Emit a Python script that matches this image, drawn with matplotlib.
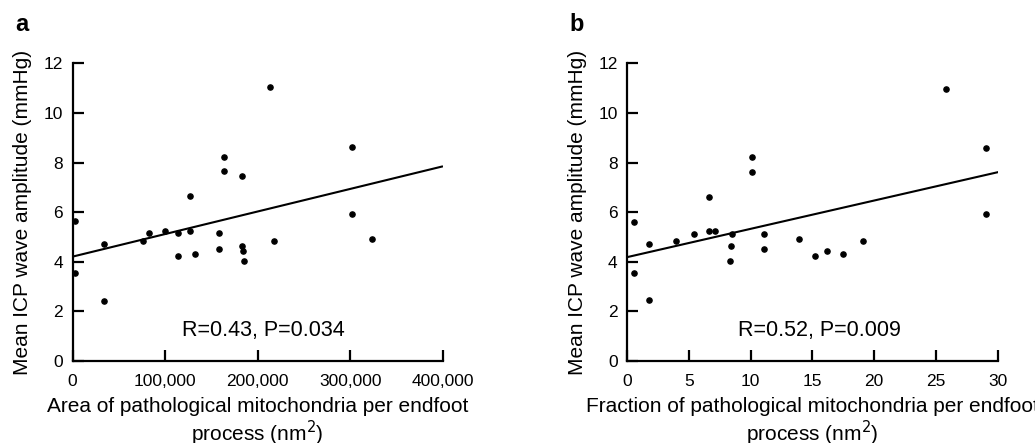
import matplotlib
matplotlib.use("Agg")
import matplotlib.pyplot as plt
import numpy as np

plt.rcParams['font.family'] = ['Liberation Sans', 'DejaVu Sans']

# panel a: area of pathological mitochondria (nm^2) vs mean ICP wave amplitude
area_x = [2900, 2900, 33900, 33900, 75700, 82200, 99500, 113900, 113900, 127200,
          127200, 132300, 158600, 158600, 163600, 163600, 182700, 182700, 184500,
          185600, 213000, 218000, 301300, 301300, 322900]
area_y = [5.65, 3.53, 4.73, 2.43, 4.84, 5.15, 5.24, 5.15, 4.23, 6.64,
          5.24, 4.33, 5.15, 4.53, 8.24, 7.65, 7.45, 4.64, 4.44,
          4.03, 11.03, 4.84, 8.64, 5.94, 4.93]
area_fit = (4.21, 7.84)        # line values at start / end
area_fit_x = (0, 399000)

# panel b: fraction of pathological mitochondria vs mean ICP wave amplitude
frac_x = [0.54, 0.54, 1.73, 1.73, 3.97, 5.43, 6.62, 6.62, 7.10, 8.29, 8.37, 8.48,
          10.07, 10.07, 11.05, 11.05, 13.91, 15.18, 16.15, 17.5, 19.09, 25.84,
          29.03, 29.03]
frac_y = [5.62, 3.53, 4.73, 2.46, 4.83, 5.13, 6.63, 5.23, 5.23, 4.03, 4.62, 5.13,
          8.21, 7.62, 5.13, 4.53, 4.93, 4.23, 4.44, 4.33, 4.83, 10.97,
          8.59, 5.93]
frac_fit = (4.19, 7.61)
frac_fit_x = (0, 30)

y_ticks = [0, 2, 4, 6, 8, 10, 12]
area_ticks = [0, 100000, 200000, 300000, 400000]
area_tick_labels = ['0', '100,000', '200,000', '300,000', '400,000']
frac_ticks = [0, 5, 10, 15, 20, 25, 30]

panels = [
    dict(letter='a', x=area_x, y=area_y, fx=area_fit_x, fy=area_fit,
         xlim=(0, 400000), ticks=area_ticks, labels=area_tick_labels,
         xlabel='Area of pathological mitochondria per endfoot\nprocess (nm$^2$)',
         stat='R=0.43, P=0.034', stat_x=0.515, left=0.0702),
    dict(letter='b', x=frac_x, y=frac_y, fx=frac_fit_x, fy=frac_fit,
         xlim=(0, 30), ticks=frac_ticks, labels=[str(t) for t in frac_ticks],
         xlabel='Fraction of pathological mitochondria per endfoot\nprocess (nm$^2$)',
         stat='R=0.52, P=0.009', stat_x=0.52, left=0.6061),
]

fig = plt.figure(figsize=(10.35, 4.43), dpi=100)

for p in panels:
    ax = fig.add_axes([p['left'], 0.185, 0.3577, 0.672])
    ax.scatter(p['x'], p['y'], s=14, color='black', zorder=3, clip_on=False)
    ax.plot(p['fx'], p['fy'], color='black', linewidth=1.5)

    ax.set_xlim(*p['xlim'])
    ax.set_ylim(0, 12)
    ax.set_xticks(p['ticks'])
    ax.set_xticklabels(p['labels'])
    ax.set_yticks(y_ticks)

    for side in ['top', 'right']:
        ax.spines[side].set_visible(False)
    for side in ['left', 'bottom']:
        ax.spines[side].set_linewidth(1.6)

    ax.tick_params(axis='both', direction='in', length=8, width=1.6,
                   labelsize=12.5, colors='black')
    ax.tick_params(axis='x', pad=9)
    ax.tick_params(axis='y', pad=7)

    ax.set_xlabel(p['xlabel'], fontsize=15, labelpad=6, linespacing=1.15)
    ax.set_ylabel('Mean ICP wave amplitude (mmHg)', fontsize=15, labelpad=8)

    ax.text(p['stat_x'], 0.104, p['stat'], transform=ax.transAxes,
            ha='center', va='center', fontsize=15.5)

    ax.text(-0.155, 1.13, p['letter'], transform=ax.transAxes,
            fontsize=17, fontweight='bold', ha='left', va='center')

fig.savefig('out.png', dpi=100)
